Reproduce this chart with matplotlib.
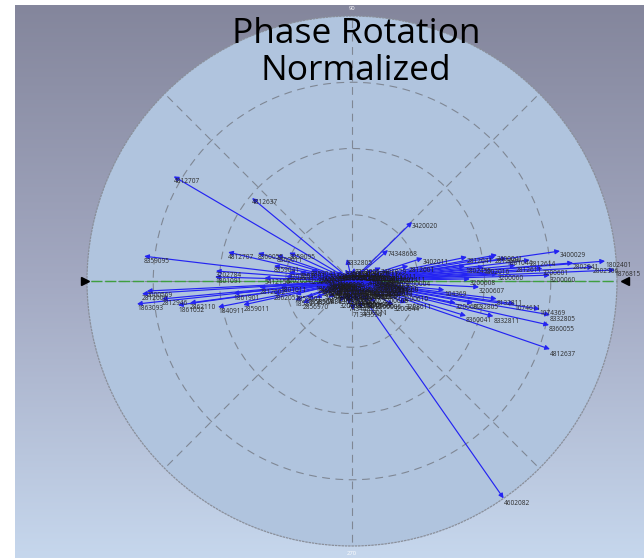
import numpy as np
import matplotlib
matplotlib.use("Agg")
import matplotlib.pyplot as plt
from matplotlib.colors import LinearSegmentedColormap

# ---------------- data (angle in degrees, normalized magnitude, label) -------------
long_angles = [149.6, 140.3, 173.2, 166.9, 163.4, 155.7, 175.8, 178.3, 178.0,
               182.8, 183.5, 186.1, 185.4, 187.7, 187.9, 191.0, 192.4, 198.4, 204.0,
               44.5, 40.7, 103.0, 272.0, 8.2, 4.5, 2.4, 1.7, 351.5, 350.3, 347.4,
               341.0, 304.9, 349.7, 357.3, 354.5, 1.0]
long_mags = [0.78, 0.49, 0.79, 0.48, 0.37, 0.26, 0.515, 0.517, 0.33,
             0.775, 0.794, 0.816, 0.72, 0.617, 0.663, 0.515, 0.42, 0.227, 0.203,
             0.318, 0.179, 0.085, 0.11, 0.793, 0.958, 0.993, 0.747, 0.717, 0.758, 0.762,
             0.79, 1.0, 0.464, 0.48, 0.35, 0.445]
long_labels = ["4812707", "4812637", "8359095", "4812707", "8360055", "8359095", "3202784",
               "1801091", "5412150", "2000569", "2812606", "1863093", "2812946", "2862110",
               "1861052", "1840911", "2859011", "1858911", "2856970", "3420020", "74348668",
               "8332805", "71343594", "3400029", "1802401", "1876815", "3200060", "1074369",
               "8332805", "8360055", "4812637", "4602082", "8132805", "3200607", "104369",
               "3200608"]

fan_angles = [11.8, 9.5, 8.4, 6.7, 4.7, 3.3, 10.2, 7.5, 5.5, 3.8, 2.8, 6.0,
              184.0, 186.0, 189.0, 169.0, 172.0, 161.0,
              352.0, 353.0, 348.0, 346.0, 343.0]
fan_mags = [0.443, 0.547, 0.59, 0.676, 0.837, 0.911, 0.556, 0.43, 0.62, 0.72, 0.55, 0.5,
            0.35, 0.45, 0.30, 0.30, 0.24, 0.30,
            0.62, 0.55, 0.40, 0.55, 0.45]
fan_labels = ["2812041", "2812604", "1801044", "2812614", "2802941", "2802906", "3400041",
              "1802455", "2812611", "3200601", "3200060", "1802016",
              "2812602", "1861901", "2862051", "8359041", "3202051", "8360011",
              "1074611", "8132811", "3200602", "8332811", "8360041"]

short_angles = [175, 170, 185, 190, 200, 210, 230, 250, 262, 280, 300, 320, 335, 345, 355,
                5, 10, 20, 30, 60, 80, 120, 150, 160, 178, 182, 188, 195, 205, 215, 240,
                290, 310, 325, 340, 350, 358, 2, 6, 12, 15, 18, 25, 0.5, 345, 338, 330,
                200, 193, 170, 165, 176, 184, 268, 275]
short_mags = [0.16, 0.12, 0.14, 0.10, 0.08, 0.06, 0.05, 0.07, 0.09, 0.06, 0.05, 0.07, 0.10,
              0.13, 0.15, 0.12, 0.09, 0.07, 0.05, 0.04, 0.05, 0.05, 0.07, 0.09, 0.08, 0.06,
              0.04, 0.12, 0.15, 0.11, 0.09, 0.11, 0.10, 0.04, 0.06, 0.08, 0.05, 0.20, 0.18,
              0.15, 0.22, 0.28, 0.12, 0.10, 0.20, 0.22, 0.18, 0.18, 0.22, 0.20, 0.16, 0.25,
              0.27, 0.04, 0.03]
short_labels = ["3202041", "3200611", "1859011", "2856970", "7434893", "3200639", "1801011",
                "7434459", "74344893", "3200627", "3200606", "3208600", "3200641", "3200604",
                "3200611", "3200006", "2812000", "1801091", "3200035", "1876815", "8333005",
                "8359001", "3202784", "8360041", "5412150", "1858915", "2812906", "3200617",
                "2856911", "7434302", "3200639", "3209011", "3200606", "1802406", "3200629",
                "1074360", "3200060", "3200004", "1802411", "3400011", "2812601", "3402011",
                "3401029", "3200601", "3200610", "3208611", "3200644", "1858901", "2859001",
                "3202001", "8359041", "3202054", "1801011", "7134359", "7434866"]

core_angles = [181, 187, 192, 197, 203, 208, 214, 222, 236, 248, 257, 266, 284, 296, 305,
               314, 318, 328, 333, 337, 342, 347, 352, 356, 359, 3, 7, 9, 14, 17, 22,
               28, 35, 45, 70, 95, 110, 135, 145, 155, 168, 173, 179, 183, 186, 189, 194,
               199, 220, 255, 300, 322, 349, 354]
core_mags = [0.10, 0.08, 0.12, 0.06, 0.11, 0.09, 0.07, 0.08, 0.06, 0.05, 0.08, 0.07, 0.08,
             0.07, 0.09, 0.06, 0.12, 0.08, 0.13, 0.09, 0.11, 0.14, 0.10, 0.12, 0.09, 0.08,
             0.14, 0.06, 0.10, 0.08, 0.06, 0.09, 0.04, 0.06, 0.03, 0.04, 0.03, 0.04, 0.05,
             0.06, 0.11, 0.13, 0.05, 0.09, 0.07, 0.13, 0.05, 0.10, 0.04, 0.03, 0.03, 0.05,
             0.12, 0.17]
core_labels = ["1801061", "2812016", "1858001", "2856911", "3200639", "7434893", "3200608",
               "1801095", "7434869", "3200604", "7134359", "7434866", "3200617", "3200627",
               "3200644", "3209011", "3200006", "1074304", "3200606", "8132801", "3200629",
               "3200611", "1074369", "3200607", "3200060", "3200035", "2812041", "3400029",
               "1802401", "2812611", "3402020", "3420011", "7434866", "3420020", "1876815",
               "8332805", "8359011", "8360055", "4812637", "8359095", "3202784", "3202041",
               "5412150", "1863011", "2812946", "2862110", "1861052", "1840911", "2859011",
               "7434459", "3200639", "3208600", "8332811", "104369"]

title_text = "Phase Rotation\nNormalized"
angle_tick_values = [90, 270]

# ---------------- figure ----------------
W, H, DPI = 644, 558, 100
fig = plt.figure(figsize=(W / DPI, H / DPI), dpi=DPI, facecolor="white")

# gradient background (white strip left and top)
bg = fig.add_axes([15 / W, 0, 1 - 15 / W, 1 - 5 / H])
bg.set_axis_off()
cmap = LinearSegmentedColormap.from_list("bg", ["#84869c", "#a3a9c2", "#c6d7ed"])
grad = np.linspace(0, 1, 256).reshape(-1, 1)
bg.imshow(grad, aspect="auto", cmap=cmap, extent=[0, 1, 1, 0])
bg.set_xlim(0, 1)
bg.set_ylim(1, 0)

# polar axes
cx, cy, R = 352, 281, 265
ax = fig.add_axes([(cx - R) / W, (H - cy - R) / H, 2 * R / W, 2 * R / H],
                  projection="polar")
ax.set_facecolor("#b0c4de")
ax.set_ylim(0, 1)
ax.set_rticks([0.25, 0.5, 0.75])
ax.set_yticklabels([])
ax.set_thetagrids(range(0, 360, 45), labels=[""] * 8)
ax.grid(True, color="#7f8794", linestyle=(0, (7, 5)), linewidth=0.8)
ax.spines["polar"].set_color("#8a8f9a")
ax.spines["polar"].set_linestyle(":")
ax.spines["polar"].set_linewidth(0.9)
ax.tick_params(length=0, pad=0)

# green reference line
ax.plot([np.pi, np.pi], [0, 1], color="#3f9f3f", lw=1.0, linestyle=(0, (8, 2)), zorder=2)
ax.plot([0, 0], [0, 1], color="#3f9f3f", lw=1.0, linestyle=(0, (8, 2)), zorder=2)
ax.plot([np.pi], [1.008], marker=">", color="black", ms=6, clip_on=False, zorder=6)
ax.plot([0], [1.03], marker="<", color="black", ms=6, clip_on=False, zorder=6)

# angle labels
for a in angle_tick_values:
    ax.text(np.deg2rad(a), 1.03, str(a), color="white", fontsize=4.2,
            ha="center", va="center", family="Open Sans", clip_on=False)


def draw(angles, mags, labels, tcol="#2b2b2b"):
    for a, m, lab in zip(angles, mags, labels):
        th = np.deg2rad(a)
        ax.annotate("", xy=(th, m), xytext=(0, 0),
                    arrowprops=dict(arrowstyle="-|>", color="#2424f2", lw=0.85,
                                    mutation_scale=7, shrinkA=0, shrinkB=0),
                    zorder=4)
        ax.annotate(lab, xy=(th, m), xytext=(0, -1), textcoords="offset points",
                    fontsize=4.7, color=tcol, ha="left", va="top",
                    family="Open Sans", zorder=5, annotation_clip=False)


draw(core_angles, core_mags, core_labels, tcol="#151515")
draw(short_angles, short_mags, short_labels, tcol="#1f1f1f")
draw(fan_angles, fan_mags, fan_labels)
draw(long_angles, long_mags, long_labels)

fig.text(356 / W, 1 - 17 / H, title_text, ha="center", va="top", fontsize=25.5,
         family="Open Sans", color="black", linespacing=1.12)

fig.savefig("out.png", dpi=DPI, facecolor="white")
